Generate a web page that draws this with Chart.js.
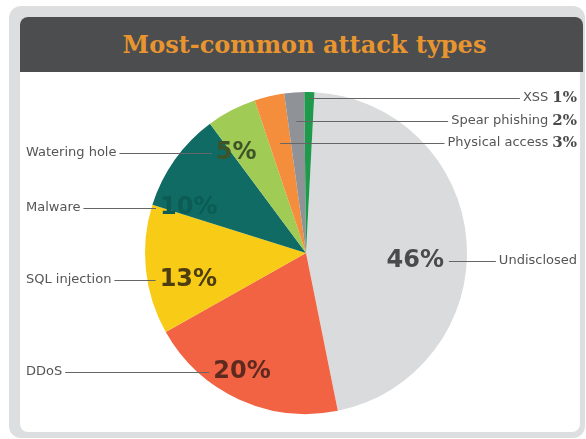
<!DOCTYPE html>
<html>
<head>
<meta charset="utf-8">
<script src="https://cdn.jsdelivr.net/npm/chart.js@4"></script>
<style>
  html, body { margin: 0; padding: 0; background: #fff; }
  #wrap { position: relative; width: 586px; height: 439px; overflow: hidden; }
  .frame { position: absolute; left: 9px; top: 6px; width: 576px; height: 432px; background: #dcdedf; border-radius: 12px; }
  .inner { position: absolute; left: 20px; top: 17px; width: 560px; height: 415px; background: #fff; border-radius: 8px; }
  .header {
    position: absolute; left: 20px; top: 17px; width: 563px; height: 55px;
    background: #4b4d4f; border-radius: 8px 8px 0 0;
    color: #e8952f; font-family: "DejaVu Serif", serif; font-size: 24px; font-weight: bold;
    text-align: center; line-height: 55px; padding-left: 6px; box-sizing: border-box;
  }
  canvas { position: absolute; left: 0; top: 0; }
</style>
</head>
<body>
<div id="wrap">
  <div class="frame"></div>
  <div class="inner"></div>
  <div class="header">Most-common attack types</div>
  <canvas id="pieChart" width="586" height="439"></canvas>
</div>
<script>
// Attack types, clockwise from the top
const categories = ['Undisclosed', 'DDoS', 'SQL injection', 'Malware', 'Watering hole',
  'Physical access', 'Spear phishing', 'XSS'];
const shares = [46, 20, 13, 10, 5, 3, 2, 1]; // percent
const sliceColors = ['#d9dbdc', '#f26343', '#f7cb16', '#0f6b63', '#a0cb55',
  '#f58e3c', '#8f9398', '#1f9a4d'];
// darker ink used for the big numbers inside the slices
const pctColors = ['#4a4b4c', '#5e2a20', '#4d3d10', '#0b5c55', '#3e5428'];

// how each label is placed: 'in' = big number in slice, 'top' = row at top right
const labelStyle = [
  { mode: 'in', side: 'right', t: 0.55, f: 0.68 },
  { mode: 'in', side: 'left', t: 0.55, f: 0.84 },
  { mode: 'in', side: 'left', t: 0.35, f: 0.75 },
  { mode: 'in', side: 'left', t: 0.1, f: 0.78 },
  { mode: 'in', side: 'left', t: 0.1, f: 0.76 },
  { mode: 'top', row: 2 },
  { mode: 'top', row: 1 },
  { mode: 'top', row: 0 },
];

const labelPlugin = {
  id: 'labels',
  afterDraw(chart) {
    const ctx = chart.ctx;
    const arcs = chart.getDatasetMeta(0).data;
    ctx.save();
    ctx.strokeStyle = '#666';
    ctx.lineWidth = 1;
    ctx.textBaseline = 'middle';

    arcs.forEach((arc, i) => {
      const st = labelStyle[i];
      const { x: cx, y: cy, startAngle, endAngle, outerRadius } = arc.getProps(
        ['x', 'y', 'startAngle', 'endAngle', 'outerRadius'], true);
      const pct = shares[i] + '%';

      if (st.mode === 'in') {
        const a = startAngle + (endAngle - startAngle) * st.t;
        const px = cx + Math.cos(a) * outerRadius * st.f;
        const py = Math.round(cy + Math.sin(a) * outerRadius * st.f);
        ctx.font = 'bold 24px "DejaVu Sans"';
        const pw = ctx.measureText(pct).width;
        ctx.fillStyle = pctColors[i];
        ctx.textAlign = 'center';
        ctx.fillText(pct, px, py);

        ctx.font = '13px "DejaVu Sans"';
        ctx.fillStyle = '#555';
        if (st.side === 'left') {
          ctx.textAlign = 'left';
          ctx.fillText(categories[i], 26, py);
          const tw = ctx.measureText(categories[i]).width;
          ctx.beginPath();
          ctx.moveTo(26 + tw + 3, py + 0.5);
          ctx.lineTo(px - pw / 2 - 4, py + 0.5);
          ctx.stroke();
        } else {
          ctx.textAlign = 'right';
          ctx.fillText(categories[i], 577, py);
          const tw = ctx.measureText(categories[i]).width;
          ctx.beginPath();
          ctx.moveTo(px + pw / 2 + 5, py + 0.5);
          ctx.lineTo(577 - tw - 3, py + 0.5);
          ctx.stroke();
        }
      } else {
        const y = Math.round(chart.chartArea.top + 6 + st.row * 22.5);
        const mid = (startAngle + endAngle) / 2;
        // point on the slice's middle line at this height
        const ax = cx + (y - cy) / Math.tan(mid);
        ctx.textAlign = 'right';
        ctx.font = 'bold 15px "DejaVu Serif"';
        ctx.fillStyle = '#4a4a4a';
        ctx.fillText(pct, 577, y);
        const pw = ctx.measureText(pct).width;
        ctx.font = '13px "DejaVu Sans"';
        ctx.fillStyle = '#555';
        ctx.fillText(categories[i], 577 - pw - 4, y);
        const tw = ctx.measureText(categories[i]).width;
        ctx.beginPath();
        ctx.moveTo(ax, y + 0.5);
        ctx.lineTo(577 - pw - 4 - tw - 3, y + 0.5);
        ctx.stroke();
      }
    });
    ctx.restore();
  }
};

new Chart(document.getElementById('pieChart'), {
  type: 'pie',
  data: {
    labels: categories,
    datasets: [{
      data: shares,
      backgroundColor: sliceColors,
      borderWidth: 0,
    }],
  },
  options: {
    responsive: false,
    animation: false,
    rotation: 3,
    layout: { padding: { left: 145, right: 119, top: 92, bottom: 25 } },
    plugins: {
      legend: { display: false },
      tooltip: { enabled: false },
    },
  },
  plugins: [labelPlugin],
});
</script>
</body>
</html>
